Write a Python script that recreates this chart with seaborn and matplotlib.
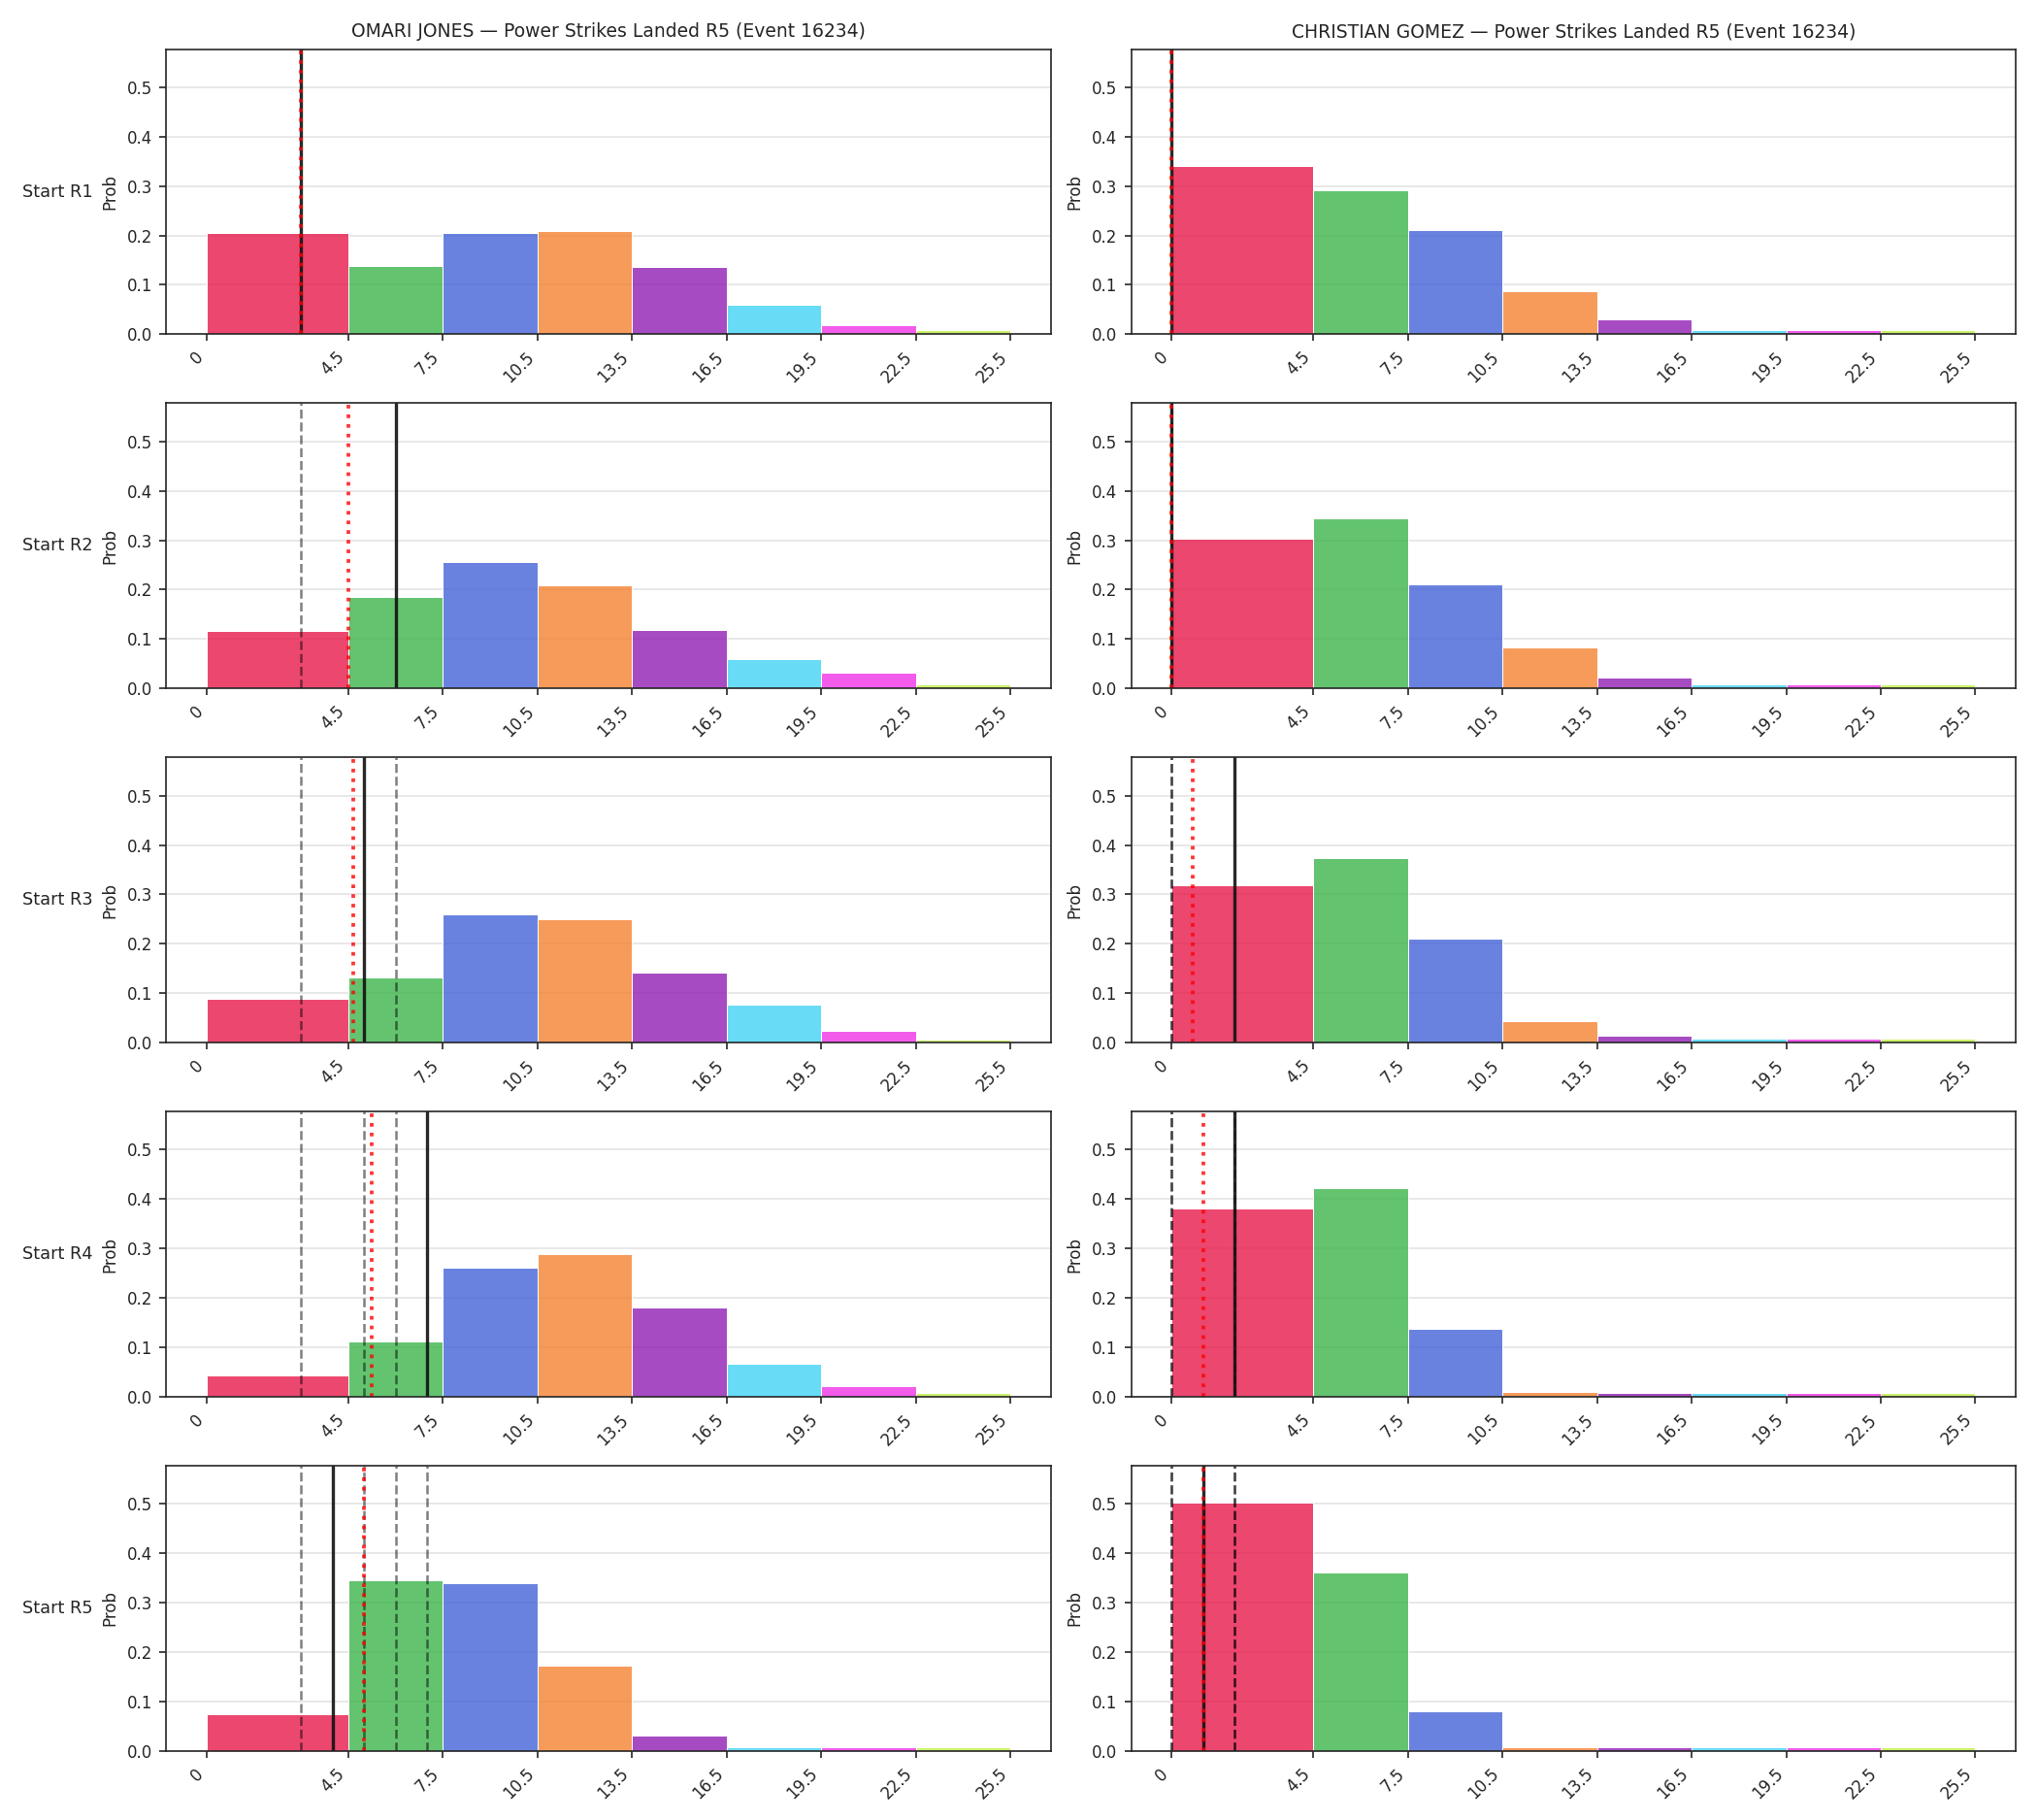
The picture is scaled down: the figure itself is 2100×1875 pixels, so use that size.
import matplotlib
matplotlib.use("Agg")
import numpy as np
import pandas as pd
import seaborn as sns
import matplotlib.pyplot as plt
from matplotlib.colors import to_rgba

sns.set_style("ticks", {"axes.linewidth": 1.0})

fighters = ["OMARI JONES", "CHRISTIAN GOMEZ"]
stat_name = "Power Strikes Landed R5"
event_id = 16234
start_rounds = ["Start R1", "Start R2", "Start R3", "Start R4", "Start R5"]

bin_edges = [0, 4.5, 7.5, 10.5, 13.5, 16.5, 19.5, 22.5, 25.5]
tick_labels = ["0", "4.5", "7.5", "10.5", "13.5", "16.5", "19.5", "22.5", "25.5"]
bin_colors = ["#e6194B", "#3cb44b", "#4363d8", "#f58231",
              "#911eb4", "#42d4f4", "#f032e6", "#bfef45"]

# probability per bin, one row per starting round
jones_probs = [
    [0.205, 0.138, 0.206, 0.210, 0.136, 0.060, 0.018, 0.009],
    [0.116, 0.185, 0.256, 0.209, 0.118, 0.059, 0.031, 0.008],
    [0.088, 0.132, 0.260, 0.249, 0.142, 0.077, 0.024, 0.007],
    [0.043, 0.112, 0.262, 0.288, 0.180, 0.067, 0.021, 0.008],
    [0.074, 0.345, 0.340, 0.172, 0.030, 0.008, 0.008, 0.008],
]
gomez_probs = [
    [0.341, 0.292, 0.211, 0.088, 0.030, 0.008, 0.008, 0.008],
    [0.303, 0.345, 0.210, 0.082, 0.022, 0.008, 0.008, 0.008],
    [0.319, 0.374, 0.210, 0.044, 0.013, 0.008, 0.008, 0.008],
    [0.382, 0.422, 0.138, 0.010, 0.008, 0.008, 0.008, 0.008],
    [0.502, 0.362, 0.080, 0.008, 0.008, 0.008, 0.008, 0.008],
]

# landed value per round (solid), earlier rounds dashed, running mean dotted
jones_landed = [3, 6, 5, 7, 4]
gomez_landed = [0, 0, 2, 2, 1]

all_probs = [jones_probs, gomez_probs]
all_landed = [jones_landed, gomez_landed]
ymax = max(max(max(r) for r in p) for p in all_probs) * 1.15

mids = [(a + b) / 2 for a, b in zip(bin_edges[:-1], bin_edges[1:])]

fig, axes = plt.subplots(5, 2, figsize=(14, 12.5), dpi=150)
fig.subplots_adjust(left=0.0816, right=0.989, top=0.973, bottom=0.038,
                    wspace=0.091, hspace=0.242)

for col in range(2):
    for row in range(5):
        ax = axes[row, col]
        df = pd.DataFrame({"mid": mids, "prob": all_probs[col][row]})
        sns.histplot(data=df, x="mid", weights="prob", bins=bin_edges,
                     edgecolor="white", linewidth=0.5, ax=ax)
        # one colour per bin
        for patch, c in zip(ax.patches, bin_colors):
            patch.set_facecolor(to_rgba(c, 0.8))
        ax.grid(axis="y", color="#e4e4e4", linewidth=0.8)
        ax.set_axisbelow(True)

        landed = all_landed[col]
        for v in landed[:row]:
            ax.axvline(v, color="black", linestyle="--", linewidth=1.2, alpha=0.5)
        ax.axvline(landed[row], color="#111111", linewidth=1.6, alpha=0.9)
        ax.axvline(np.mean(landed[:row + 1]), color="red", linestyle=":",
                   linewidth=1.8, alpha=0.8)

        ax.set_ylim(0, ymax)
        ax.set_yticks([0.0, 0.1, 0.2, 0.3, 0.4, 0.5])
        ax.set_xticks(bin_edges)
        ax.set_xticklabels(tick_labels, rotation=45, ha="right")
        ax.tick_params(labelsize=8)
        ax.set_xlabel("")
        ax.set_ylabel("Prob", fontsize=8)
        for s in ax.spines.values():
            s.set_visible(True)
        if row == 0:
            ax.set_title(f"{fighters[col]} \u2014 {stat_name} (Event {event_id})",
                         fontsize=9)
        if col == 0:
            ax.text(-0.163, 0.5, start_rounds[row], transform=ax.transAxes,
                    ha="left", va="center", fontsize=8.5)

fig.savefig("out.png", dpi=150)
